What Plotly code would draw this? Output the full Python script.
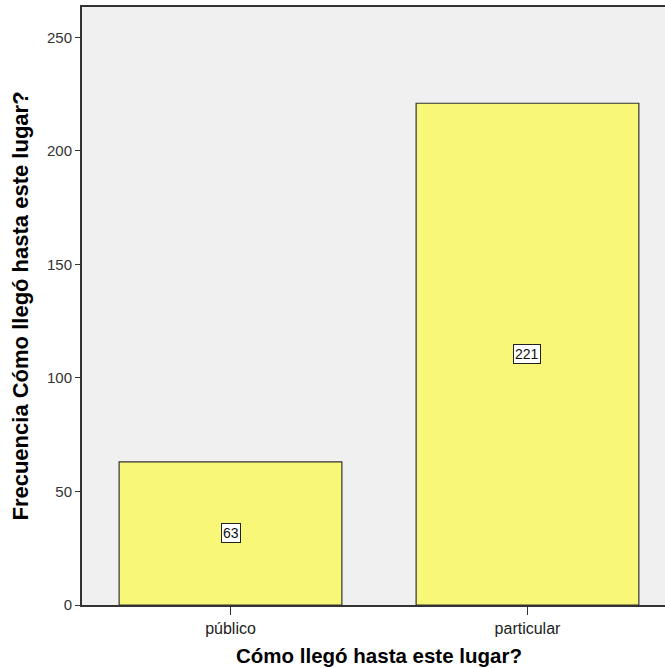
import plotly.graph_objects as go

categories = ["público", "particular"]
values = [63, 221]
y_ticks = [0, 50, 100, 150, 200, 250]

x_title = "Cómo llegó hasta este lugar?"
y_title = "Frecuencia Cómo llegó hasta este lugar?"

FONT = "Liberation Sans, Arial, sans-serif"

fig = go.Figure()
fig.add_trace(go.Bar(
    x=categories, y=values, width=0.75,
    marker=dict(color="#F9F777", line=dict(color="#333333", width=1.2)),
    hoverinfo="skip",
))

for c, v in zip(categories, values):
    fig.add_annotation(
        x=c, y=v / 2, xref="x", yref="y", text=str(v), showarrow=False,
        font=dict(family=FONT, size=14, color="#111111"),
        bgcolor="white", bordercolor="#222222", borderwidth=1, borderpad=1,
    )

fig.add_annotation(
    x=0.5, xref="x", y=-0.084, yref="paper", text="<b>" + x_title + "</b>",
    showarrow=False, xanchor="center", yanchor="middle",
    font=dict(family=FONT, size=20.5, color="#000000"),
)

fig.update_layout(
    width=665, height=668,
    margin=dict(l=82, r=0, t=7, b=63),
    paper_bgcolor="white", plot_bgcolor="#F0F0F0",
    showlegend=False,
    font=dict(family=FONT, size=14, color="#222222"),
    xaxis=dict(
        type="category", range=[-0.5, 1.463],
        showline=True, linecolor="#333333", linewidth=2, mirror=True,
        ticks="outside", ticklen=8, tickcolor="#333333", tickwidth=1,
        showgrid=False, zeroline=False,
        tickfont=dict(family=FONT, size=16, color="#222222"),
    ),
    yaxis=dict(
        range=[0, 263.4], tickvals=y_ticks,
        showline=True, linecolor="#333333", linewidth=2,
        ticks="outside", ticklen=5, tickcolor="#333333", tickwidth=1,
        showgrid=False, zeroline=False,
        tickfont=dict(family=FONT, size=15, color="#333333"),
        title=dict(text="<b>" + y_title + "</b>", standoff=12,
                   font=dict(family=FONT, size=22, color="#000000")),
    ),
)

fig.write_html("out.html", config={"displayModeBar": False},
               post_script="document.body.style.margin='0px';document.body.style.overflow='hidden';")
